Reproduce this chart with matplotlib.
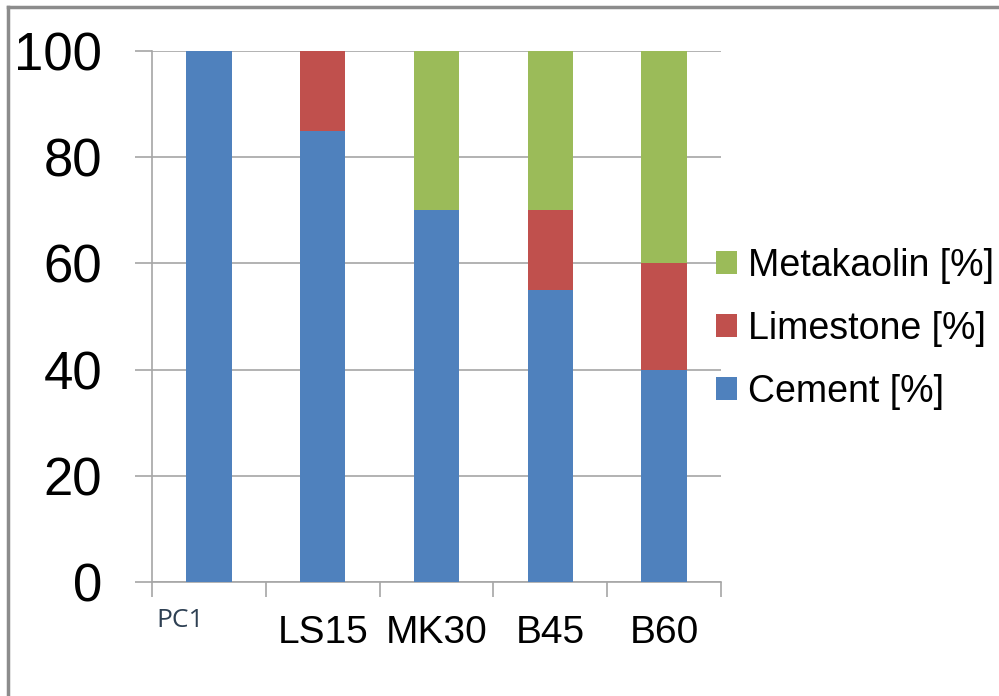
import matplotlib.pyplot as plt
from matplotlib.lines import Line2D
import numpy as np

mixes = ["PC1", "LS15", "MK30", "B45", "B60"]
cement = [100, 85, 70, 55, 40]
limestone = [0, 15, 0, 15, 20]
metakaolin = [0, 0, 30, 30, 40]

c_cement = "#4F81BD"
c_lime = "#C0504D"
c_mk = "#9BBB59"
grid_col = "#A6A6A6"

fig = plt.figure(figsize=(9.99, 6.96), dpi=100)
ax = fig.add_axes([152 / 999, 1 - 582 / 696, (721 - 152) / 999, (582 - 51) / 696])

x = np.arange(len(mixes))
w = 0.4
b_cem = ax.bar(x, cement, w, color=c_cement, label="Cement [%]", zorder=3)
b_ls = ax.bar(x, limestone, w, bottom=cement, color=c_lime, label="Limestone [%]", zorder=3)
bot2 = np.array(cement) + np.array(limestone)
b_mk = ax.bar(x, metakaolin, w, bottom=bot2, color=c_mk, label="Metakaolin [%]", zorder=3)

ax.set_xlim(-0.5, len(mixes) - 0.5)
ax.set_ylim(0, 100)
ax.set_yticks(range(0, 101, 20))
ax.yaxis.grid(True, color=grid_col, lw=1.2, zorder=0)

for s in ["top", "right"]:
    ax.spines[s].set_visible(False)
for s in ["left", "bottom"]:
    ax.spines[s].set_color(grid_col)
    ax.spines[s].set_linewidth(1.2)

ax.tick_params(axis="y", length=12, color=grid_col, width=1.2, pad=24,
               labelsize=38, labelcolor="black")
for t in ax.get_yticklabels():
    t.set_fontfamily("Liberation Sans")

# category ticks sit between the bars
ax.set_xticks(np.arange(-0.5, len(mixes), 1.0))
ax.set_xticklabels([])
ax.tick_params(axis="x", length=11, color=grid_col, width=1.2)

for i, name in enumerate(mixes):
    if i == 0:
        ax.annotate(name, xy=(-0.5, 0), xycoords=("data", "axes fraction"),
                    xytext=(3, -19), textcoords="offset points",
                    ha="left", va="top", fontsize=19, color="#2E4053",
                    fontfamily="Open Sans")
    else:
        ax.annotate(name, xy=(i, 0), xycoords=("data", "axes fraction"),
                    xytext=(0, -24), textcoords="offset points",
                    ha="center", va="top", fontsize=28, color="black",
                    fontfamily="Liberation Sans")

leg = fig.legend(handles=[b_mk, b_ls, b_cem],
                 labels=["Metakaolin [%]", "Limestone [%]", "Cement [%]"],
                 loc="center left", bbox_to_anchor=(716 / 999, 1 - 329 / 696),
                 frameon=False, prop={"family": "Liberation Sans", "size": 27},
                 handlelength=0.55, handleheight=0.55, handletextpad=0.3,
                 labelspacing=0.72, borderpad=0, borderaxespad=0)

# thin border along the top and left edges
fig.add_artist(Line2D([8 / 999, 1], [1 - 7 / 696, 1 - 7 / 696],
                      transform=fig.transFigure, color="#8C8C8C", lw=2.5))
fig.add_artist(Line2D([8 / 999, 8 / 999], [0, 1 - 7 / 696],
                      transform=fig.transFigure, color="#8C8C8C", lw=2.5))

fig.savefig("out.png", dpi=100)
